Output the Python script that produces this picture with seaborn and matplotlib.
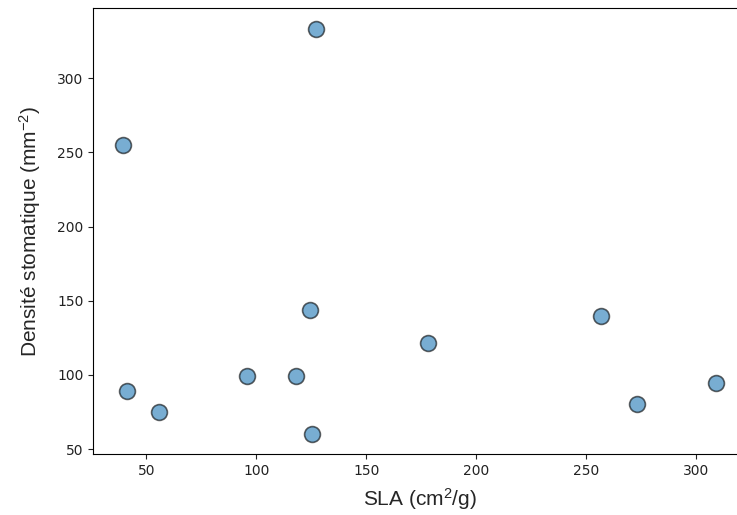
import matplotlib
matplotlib.use("Agg")
import matplotlib.pyplot as plt
import seaborn as sns
import pandas as pd

sla = [127.0, 39.4, 124.5, 256.8, 178.2, 41.2, 55.9, 95.8, 118.2, 125.3, 273.3, 309.2]
densite = [333.6, 255.0, 143.8, 139.7, 121.6, 89.3, 74.8, 99.0, 99.0, 60.1, 80.4, 94.3]

df = pd.DataFrame({"SLA": sla, "Densite": densite})

sns.set_style("ticks")
plt.rcParams['font.family'] = ['DejaVu Sans']
plt.rcParams['mathtext.fontset'] = 'custom'
plt.rcParams['mathtext.rm'] = 'Liberation Sans'
plt.rcParams['mathtext.it'] = 'Liberation Sans:italic'

fig = plt.figure(figsize=(7.37, 5.15), dpi=100)
ax = fig.add_axes([0.1266, 0.1177, 1.0122 - 0.1266, 0.984 - 0.1177])
sns.scatterplot(data=df, x="SLA", y="Densite", ax=ax, s=130,
                color="#1f77b4", alpha=0.6, edgecolor="black", linewidth=1.2)
ax.set_xticks([50, 100, 150, 200, 250, 300])
ax.set_yticks([50, 100, 150, 200, 250, 300])
ax.tick_params(labelsize=10, colors="#222222")
for sp in ax.spines.values():
    sp.set_visible(True)
    sp.set_color("black")
ax.set_xlabel("SLA (cm$^2$/g)", fontsize=15, family="Liberation Sans", labelpad=6)
ax.set_ylabel("Densité stomatique (mm$^{-2}$)", fontsize=15, family="Liberation Sans", labelpad=10)
fig.savefig("out.png", dpi=100)
